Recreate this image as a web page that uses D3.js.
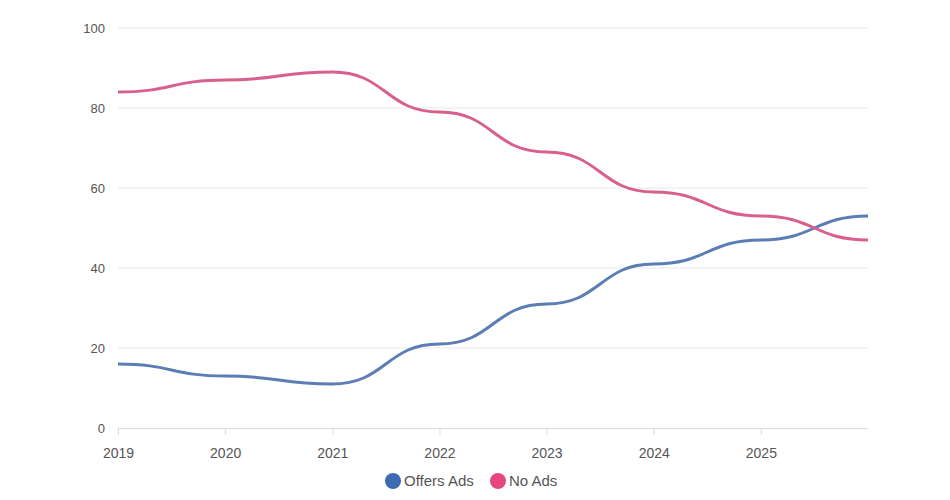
<!DOCTYPE html>
<html>
<head>
<meta charset="utf-8">
<script src="https://cdn.jsdelivr.net/npm/d3@7"></script>
<style>
  body { margin: 0; background: #fff; }
  text { font-family: "Liberation Sans", Arial, sans-serif; }
</style>
</head>
<body>
<script>
// data
var years = [2019, 2020, 2021, 2022, 2023, 2024, 2025, 2026];
var offersAds = [16, 13, 11, 21, 31, 41, 47, 53];
var noAds = [84, 87, 89, 79, 69, 59, 53, 47];
var yTicks = [0, 20, 40, 60, 80, 100];
var xTicks = [2019, 2020, 2021, 2022, 2023, 2024, 2025];

var series = [
  {name: "Offers Ads", values: offersAds, line: "#5b7db3", dot: "#3d6bb3"},
  {name: "No Ads", values: noAds, line: "#d9608e", dot: "#e5487f"}
];

var margin = {top: 28, right: 82, bottom: 72, left: 118},
    width = 950 - margin.left - margin.right,
    height = 500 - margin.top - margin.bottom;

var svg = d3.select("body").append("svg")
  .attr("width", 950)
  .attr("height", 500);

var g = svg.append("g")
  .attr("transform", "translate(" + margin.left + "," + margin.top + ")");

var x = d3.scaleLinear().domain([2019, 2026]).range([0, width]);
var y = d3.scaleLinear().domain([0, 100]).range([height, 0]);

// gridlines
g.selectAll(".grid")
  .data(yTicks.slice(1))
  .enter().append("line")
    .attr("x1", 0)
    .attr("x2", width)
    .attr("y1", function(d) { return y(d); })
    .attr("y2", function(d) { return y(d); })
    .attr("stroke", "#e8e8e8")
    .attr("stroke-width", 1);

// y labels
g.selectAll(".ylab")
  .data(yTicks)
  .enter().append("text")
    .attr("x", -13)
    .attr("y", function(d) { return y(d); })
    .attr("dy", "0.35em")
    .attr("text-anchor", "end")
    .attr("font-size", 13)
    .attr("fill", "#555")
    .text(function(d) { return d; });

// x axis
var xAxis = g.append("g")
  .attr("transform", "translate(0," + height + ")")
  .call(d3.axisBottom(x).tickValues(xTicks).tickFormat(d3.format("d")).tickSize(7).tickSizeOuter(0));
xAxis.select(".domain").attr("stroke", "#dcdcdc");
xAxis.selectAll(".tick line").attr("stroke", "#dcdcdc");
xAxis.selectAll(".tick text")
  .attr("y", 25)
  .attr("dy", "0.35em")
  .attr("font-family", "Liberation Sans, Arial, sans-serif")
  .attr("font-size", 14)
  .attr("fill", "#555");

// lines
var line = d3.line()
  .x(function(d, i) { return x(years[i]); })
  .y(function(d) { return y(d); })
  .curve(d3.curveBumpX);

g.selectAll(".series")
  .data(series)
  .enter().append("path")
    .attr("d", function(d) { return line(d.values); })
    .attr("fill", "none")
    .attr("stroke", function(d) { return d.line; })
    .attr("stroke-width", 3);

// legend
var legend = svg.append("g")
  .attr("transform", "translate(385,481)");

var items = legend.selectAll(".item")
  .data(series)
  .enter().append("g")
    .attr("transform", function(d, i) { return "translate(" + (i * 105) + ",0)"; });

items.append("circle")
  .attr("cx", 8)
  .attr("cy", 0)
  .attr("r", 8)
  .attr("fill", function(d) { return d.dot; });

items.append("text")
  .attr("x", 19)
  .attr("y", 0)
  .attr("dy", "0.35em")
  .attr("font-size", 15)
  .attr("fill", "#555")
  .text(function(d) { return d.name; });
</script>
</body>
</html>
